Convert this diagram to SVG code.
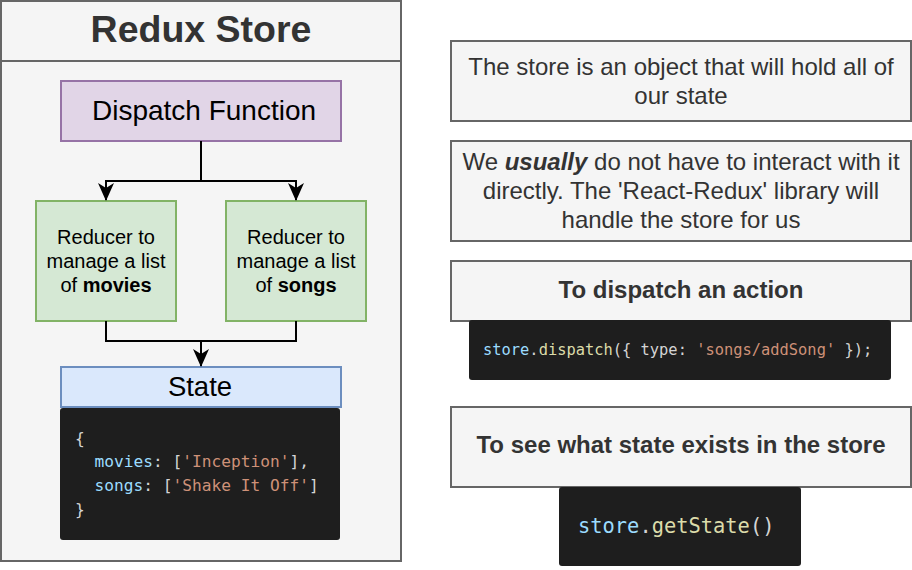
<svg xmlns="http://www.w3.org/2000/svg" width="912" height="570" viewBox="0 0 912 570">
<style>
.box{fill:#f5f5f5;stroke:#666666;stroke-width:2}
.t{font-family:"Liberation Sans",Arial,sans-serif;fill:#333333;text-anchor:middle;font-size:24px}
.tb{font-family:"Liberation Sans",Arial,sans-serif;fill:#000000;text-anchor:middle}
.code{fill:#1e1e1e}
.m{font-family:"DejaVu Sans Mono","Liberation Mono",monospace;fill:#d4d4d4;white-space:pre}
.k{fill:#9cdcfe}.f{fill:#dcdcaa}.s{fill:#ce9178}
.edge{fill:none;stroke:#000000;stroke-width:2}
</style>
<defs>
<marker id="arr" viewBox="0 0 18 16" refX="17" refY="8" markerWidth="18" markerHeight="16" orient="auto" markerUnits="userSpaceOnUse">
<path d="M0,0 L18,8 L0,16 L5,8 Z" fill="#000000"/>
</marker>
</defs>
<rect width="912" height="570" fill="#ffffff"/>
<g id="redux-store">
<rect class="box" x="1" y="1" width="400" height="560"/>
<line x1="1" y1="61" x2="401" y2="61" stroke="#666666" stroke-width="2"/>
<text class="tb" x="201" y="42" font-size="37.5" font-weight="bold" style="fill:#333333">Redux Store</text>
</g>
<g id="dispatch-function">
<rect x="61" y="81" width="280" height="60" fill="#e1d5e7" stroke="#9673a6" stroke-width="2"/>
<text class="tb" x="204" y="119.5" font-size="28">Dispatch Function</text>
</g>
<g id="reducer-movies">
<rect x="36" y="201" width="140" height="120" fill="#d5e8d4" stroke="#82b366" stroke-width="2"/>
<text class="tb" x="106" y="244" font-size="20">Reducer to</text>
<text class="tb" x="106" y="268" font-size="20">manage a list</text>
<text class="tb" x="106" y="292" font-size="20">of <tspan font-weight="bold">movies</tspan></text>
</g>
<g id="reducer-songs">
<rect x="226" y="201" width="140" height="120" fill="#d5e8d4" stroke="#82b366" stroke-width="2"/>
<text class="tb" x="296" y="244" font-size="20">Reducer to</text>
<text class="tb" x="296" y="268" font-size="20">manage a list</text>
<text class="tb" x="296" y="292" font-size="20">of <tspan font-weight="bold">songs</tspan></text>
</g>
<g id="state">
<rect x="61" y="367" width="280" height="40" fill="#dae8fc" stroke="#6c8ebf" stroke-width="2"/>
<text class="tb" x="200" y="396" font-size="27.5">State</text>
<rect class="code" x="60" y="408" width="280" height="132" rx="3"/>
<text class="m" font-size="16.2" xml:space="preserve"><tspan x="75" y="444">{</tspan><tspan x="75" y="467">  <tspan class="k">movies</tspan>: [<tspan class="s">'Inception'</tspan>],</tspan><tspan x="75" y="491">  <tspan class="k">songs</tspan>: [<tspan class="s">'Shake It Off'</tspan>]</tspan><tspan x="75" y="515">}</tspan></text>
</g>
<g id="note-store">
<rect class="box" x="451" y="41" width="460" height="80"/>
<text class="t" x="681" y="75">The store is an object that will hold all of</text>
<text class="t" x="681" y="104">our state</text>
</g>
<g id="note-usually">
<rect class="box" x="451" y="141" width="460" height="100"/>
<text class="t" x="681" y="169.5">We <tspan font-weight="bold" font-style="italic">usually</tspan> do not have to interact with it</text>
<text class="t" x="681" y="198.5">directly. The 'React-Redux' library will</text>
<text class="t" x="681" y="227.5">handle the store for us</text>
</g>
<g id="note-dispatch">
<rect class="box" x="451" y="261" width="460" height="60"/>
<text class="t" x="681" y="298" font-weight="bold">To dispatch an action</text>
<rect class="code" x="469" y="320" width="422" height="60" rx="3"/>
<text class="m" x="483" y="355" font-size="15.4" xml:space="preserve"><tspan class="k">store</tspan>.<tspan class="f">dispatch</tspan>({ type: <tspan class="s">'songs/addSong'</tspan> });</text>
</g>
<g id="note-getstate">
<rect class="box" x="451" y="407" width="460" height="80"/>
<text class="t" x="681" y="453" font-weight="bold">To see what state exists in the store</text>
<rect class="code" x="559" y="487" width="242" height="79" rx="3"/>
<text class="m" x="578" y="533" font-size="20.4" xml:space="preserve"><tspan class="k">store</tspan>.<tspan class="f">getState</tspan>()</text>
</g>
<g id="connectors">
<path class="edge" d="M201,141 V181 H106 V200" marker-end="url(#arr)"/>
<path class="edge" d="M201,181 H296 V200" marker-end="url(#arr)"/>
<path class="edge" d="M106,321 V341 H296 V321"/>
<path class="edge" d="M201,341 V366" marker-end="url(#arr)"/>
</g>
</svg>
